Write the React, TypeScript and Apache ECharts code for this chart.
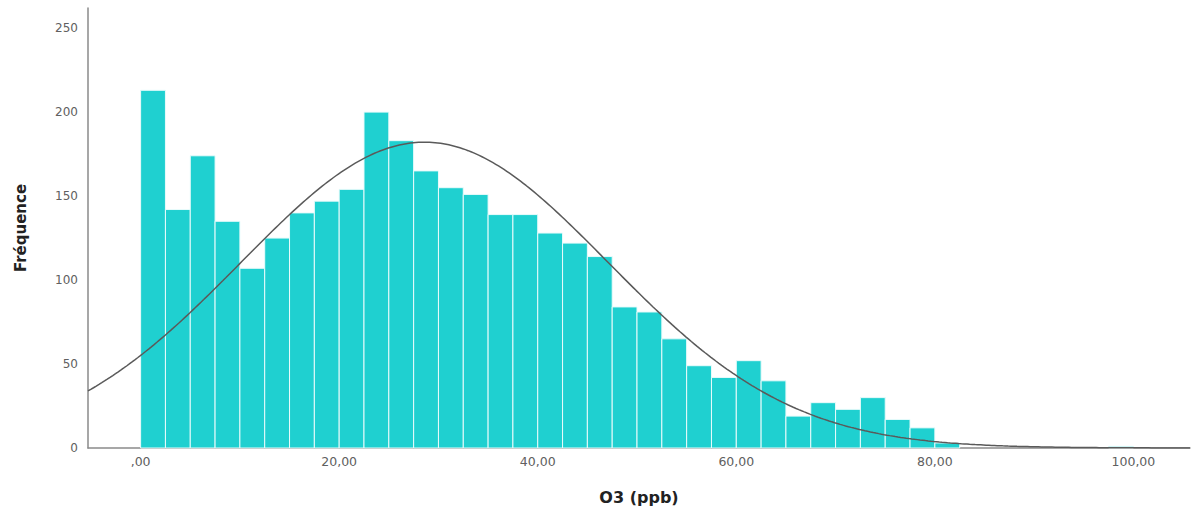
import React, { useEffect, useRef } from "react";
import * as echarts from "echarts";

// Histogram of O3 concentrations (bin width 2.5 ppb) with a fitted normal curve
const binStarts = [
  0, 2.5, 5, 7.5, 10, 12.5, 15, 17.5, 20, 22.5, 25, 27.5, 30, 32.5, 35, 37.5,
  40, 42.5, 45, 47.5, 50, 52.5, 55, 57.5, 60, 62.5, 65, 67.5, 70, 72.5, 75,
  77.5, 80, 97.5,
];
const binWidth = 2.5;
const counts = [
  213, 142, 174, 135, 107, 125, 140, 147, 154, 200, 183, 165, 155, 151, 139,
  139, 128, 122, 114, 84, 81, 65, 49, 42, 52, 40, 19, 27, 23, 30, 17, 12, 3, 1,
];
const xTickValues = [0, 20, 40, 60, 80, 100];
const xTickLabels = [",00", "20,00", "40,00", "60,00", "80,00", "100,00"];

// Normal fit parameters
const fitMean = 28.6;
const fitSd = 18.5;

const X_MIN = -5.3;
const X_MAX = 105.7;

export default function App() {
  const ref = useRef<HTMLDivElement>(null);

  useEffect(() => {
    if (!ref.current) return;
    const chart = echarts.init(ref.current, null, { renderer: "svg" });

    const total = counts.reduce((a, b) => a + b, 0);
    const histData = binStarts.map((s, i) => [s, s + binWidth, counts[i]]);

    const curve: number[][] = [];
    const steps = 400;
    for (let i = 0; i <= steps; i++) {
      const x = X_MIN + ((X_MAX - X_MIN) * i) / steps;
      const z = (x - fitMean) / fitSd;
      const y =
        (total * binWidth * Math.exp(-0.5 * z * z)) /
        (fitSd * Math.sqrt(2 * Math.PI));
      curve.push([x, y]);
    }

    const fontFamily = "'DejaVu Sans', Verdana, sans-serif";

    chart.setOption({
      animation: false,
      backgroundColor: "#ffffff",
      grid: { left: 88, right: 2, top: 8, bottom: 58.5, containLabel: false },
      xAxis: {
        type: "value",
        min: X_MIN,
        max: X_MAX,
        name: "O3 (ppb)",
        nameLocation: "middle",
        nameGap: 41,
        nameTextStyle: {
          fontFamily,
          fontSize: 16,
          fontWeight: "bold",
          color: "#222",
        },
        axisLine: {
          show: true,
          onZero: false,
          lineStyle: { color: "#8a8a8a", width: 1.5 },
        },
        axisTick: { show: false },
        splitLine: { show: false },
        axisLabel: {
          customValues: xTickValues,
          formatter: (v: number) => {
            const idx = xTickValues.indexOf(Math.round(v));
            return idx >= 0 ? xTickLabels[idx] : "";
          },
          margin: 7,
          fontFamily,
          fontSize: 12.5,
          color: "#606060",
        },
      },
      yAxis: {
        type: "value",
        min: 0,
        max: 262,
        interval: 50,
        name: "Fréquence",
        nameLocation: "middle",
        nameGap: 60,
        nameRotate: 90,
        nameTextStyle: {
          fontFamily,
          fontSize: 15,
          fontWeight: "bold",
          color: "#222",
        },
        axisLine: {
          show: true,
          onZero: false,
          lineStyle: { color: "#8a8a8a", width: 1.5 },
        },
        axisTick: { show: false },
        splitLine: { show: false },
        axisLabel: {
          margin: 10,
          fontFamily,
          fontSize: 12,
          color: "#606060",
          showMaxLabel: false,
        },
      },
      series: [
        {
          type: "custom",
          data: histData,
          encode: { x: [0, 1], y: 2 },
          renderItem: (_params: any, api: any) => {
            const s = api.value(0);
            const e = api.value(1);
            const c = api.value(2);
            const p0 = api.coord([s, c]);
            const p1 = api.coord([e, 0]);
            return {
              type: "rect",
              shape: {
                x: p0[0],
                y: p0[1],
                width: p1[0] - p0[0],
                height: p1[1] - p0[1],
              },
              style: {
                fill: "#1fd0d0",
                stroke: "#e9fbfb",
                lineWidth: 1,
              },
            };
          },
          z: 2,
        },
        {
          type: "line",
          data: curve,
          showSymbol: false,
          smooth: false,
          lineStyle: { color: "#5a5a5a", width: 1.5 },
          z: 3,
        },
      ],
    });

    return () => chart.dispose();
  }, []);

  return (
    <div
      ref={ref}
      style={{
        position: "fixed",
        left: 0,
        top: 0,
        width: 1192,
        height: 510,
        background: "#fff",
      }}
    />
  );
}
